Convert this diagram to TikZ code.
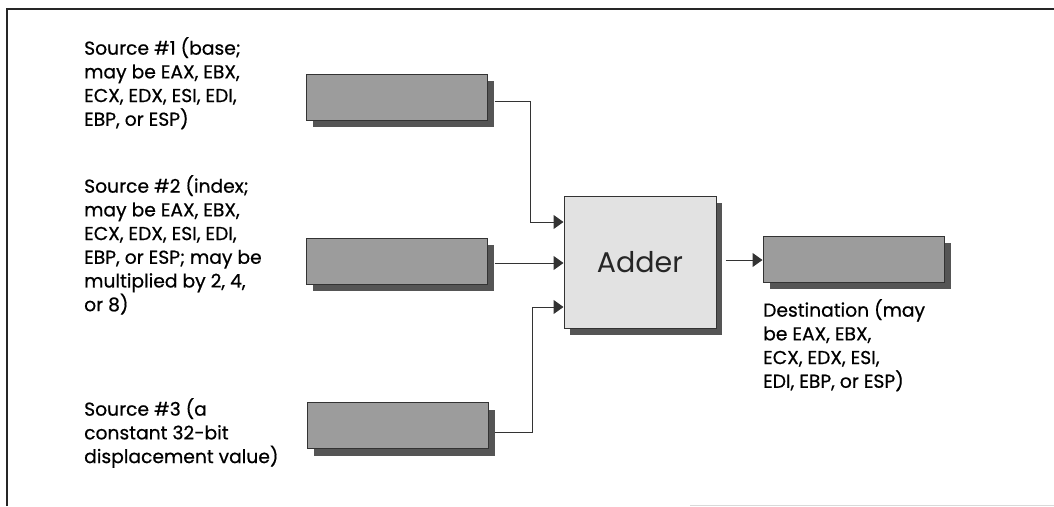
\documentclass[tikz,border=0pt]{standalone}
\usepackage{fontspec}
\setmainfont{Poppins}[FakeBold=0.6]
\newfontfamily\adderfont{Poppins}
\usetikzlibrary{arrows.meta,shadows}
\definecolor{boxgray}{HTML}{9C9C9C}
\definecolor{shadowgray}{HTML}{555555}
\definecolor{linegray}{HTML}{333333}
\definecolor{addergray}{HTML}{E2E2E2}
\begin{document}
\begin{tikzpicture}[x=1pt,y=-1pt,
  reg/.style={draw=linegray,line width=1pt,fill=boxgray,minimum width=181pt,minimum height=46pt,inner sep=0pt,
    drop shadow={shadow xshift=7pt,shadow yshift=-7pt,fill=shadowgray,opacity=1}},
  adderbox/.style={draw=linegray,line width=1pt,fill=addergray,minimum width=152pt,minimum height=132pt,inner sep=0pt,
    drop shadow={shadow xshift=6pt,shadow yshift=-7pt,fill=shadowgray,opacity=1},font=\adderfont\fontsize{28.5}{34}\selectfont,text=black!85},
  lbl/.style={anchor=north west,inner sep=0pt,align=left,font=\fontsize{18.7}{23.7}\selectfont,text=black},
  conn/.style={draw=linegray,line width=1pt},
  arr/.style={conn,-{Triangle[length=10pt,width=14pt]}}]
\useasboundingbox (0,0) rectangle (1054,506);
% frame
\draw[line width=1.8pt,black!85] (7,506) -- (7,9) -- (1054,9);
\draw[line width=0.8pt,black!15] (690,505) -- (1054,505);
% boxes
\node[reg] (s1) at (396.5,97) {};
\node[reg] (s2) at (396.5,261) {};
\node[reg] (s3) at (397.5,425.5) {};
\node[adderbox] (add) at (640,262) {Adder};
\node[reg] (dst) at (853.5,259) {};
% connectors
\coordinate (j1) at (530,101);
\coordinate (j3) at (532,432);
\draw[arr] ([yshift=-4pt]s1.east) ++(7,0) -- (j1) |- ([yshift=40pt]add.west);
\draw[arr] ([xshift=7pt,yshift=-2pt]s2.east) -- ([yshift=-1pt]add.west);
\draw[arr] ([xshift=6pt,yshift=-6.5pt]s3.east) -- (j3) |- ([yshift=-45pt]add.west);
\draw[arr] ([xshift=9pt,yshift=2pt]add.east) -- ([yshift=-1pt]dst.west);
% labels
\node[lbl] (t1) at (84,37) {Source \#1 (base;\\may be EAX, EBX,\\ECX, EDX, ESI, EDI,\\EBP, or ESP)};
\node[lbl] (t2) at (84,175) {Source \#2 (index;\\may be EAX, EBX,\\ECX, EDX, ESI, EDI,\\EBP, or ESP; may be\\multiplied by 2, 4,\\or 8)};
\node[lbl] (t3) at (84,398) {Source \#3 (a\\constant 32-bit\\displacement value)};
\node[lbl] (t4) at (763,299) {Destination (may\\be EAX, EBX,\\ECX, EDX, ESI,\\EDI, EBP, or ESP)};
\end{tikzpicture}
\end{document}
